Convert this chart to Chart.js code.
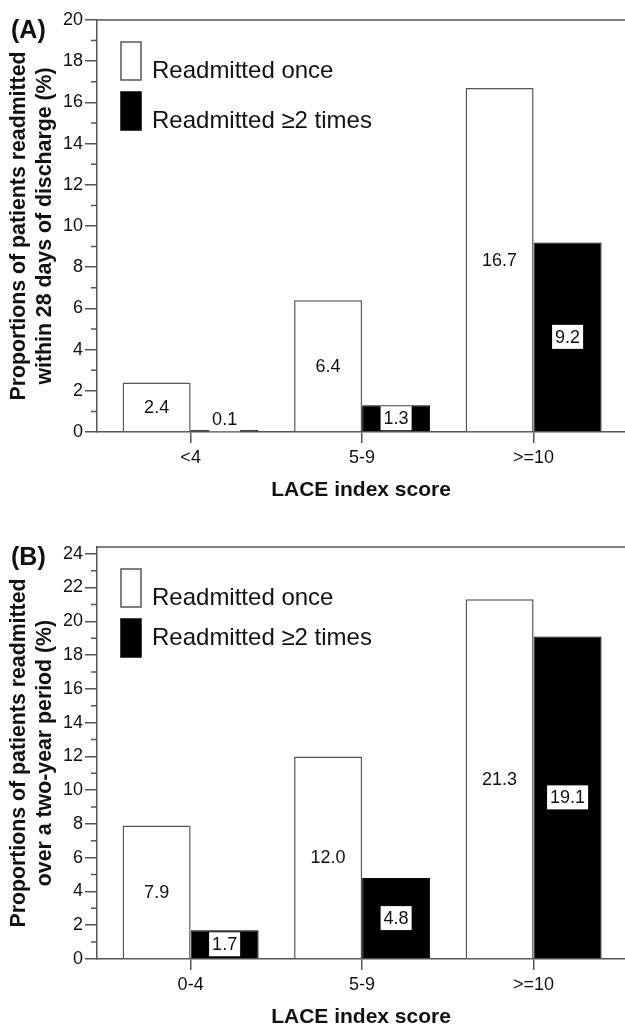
<!DOCTYPE html>
<html><head><meta charset="utf-8">
<script src="https://cdn.jsdelivr.net/npm/chart.js@4"></script>
<style>
html,body{margin:0;padding:0;background:#fff;overflow:hidden;width:625px;height:1024px;position:relative;}
.panel{position:absolute;left:0;width:625px;height:512px;}
#pa{top:0}
#pb{top:527px}
</style></head><body>
<div class="panel" id="pa"><canvas id="ca" width="625" height="512"></canvas></div>
<div class="panel" id="pb"><canvas id="cb" width="625" height="512"></canvas></div>
<script>
// ---- data ----
const seriesNames = ['Readmitted once', 'Readmitted \u22652 times'];
const categoriesA = ['<4', '5-9', '>=10'];
const onceA = [2.4, 6.4, 16.7];
const twiceA = [0.1, 1.3, 9.2];
const yTicksA = [0, 2, 4, 6, 8, 10, 12, 14, 16, 18, 20];
const yTitleA = ['Proportions of patients readmitted', 'within 28 days of discharge (%)'];

const categoriesB = ['0-4', '5-9', '>=10'];
const onceB = [7.9, 12.0, 21.3];
const twiceB = [1.7, 4.8, 19.1];
const yTicksB = [0, 2, 4, 6, 8, 10, 12, 14, 16, 18, 20, 22, 24];
const yTitleB = ['Proportions of patients readmitted', 'over a two-year period (%)'];

const xTitle = 'LACE index score';
const FONT = "'Liberation Sans', Arial, Helvetica, sans-serif";
const AXIS = '#555';

const decor = {
  id: 'decor',
  afterDatasetsDraw(chart, args, opts) {
    const ctx = chart.ctx;
    ctx.save();
    ctx.font = '18px ' + FONT;
    ctx.textAlign = 'center';
    ctx.textBaseline = 'middle';
    chart.data.datasets.forEach((ds, di) => {
      const meta = chart.getDatasetMeta(di);
      meta.data.forEach((bar, i) => {
        const txt = ds.data[i].y.toFixed(1);
        const y = Math.min((bar.y + bar.base) / 2, bar.base - 12);
        const x = bar.x;
        if (di === 1) {
          const w = ctx.measureText(txt).width + 6;
          ctx.fillStyle = '#fff';
          ctx.fillRect(x - w / 2, y - 12, w, 24);
        }
        ctx.fillStyle = '#111';
        ctx.fillText(txt, x, y + 1);
      });
    });
    ctx.restore();
  },
  afterDraw(chart, args, opts) {
    const ctx = chart.ctx;
    const ca = chart.chartArea;
    const ys = chart.scales.y;
    ctx.save();
    // top border
    ctx.strokeStyle = AXIS;
    ctx.lineWidth = 1.5;
    ctx.beginPath();
    ctx.moveTo(ca.left, ca.top);
    ctx.lineTo(ca.right + 2, ca.top);
    ctx.stroke();
    // minor ticks
    const yt = opts.yTicks;
    const maxT = yt[yt.length - 1];
    ctx.beginPath();
    for (let v = 1; v < maxT; v += 2) {
      const py = ys.getPixelForValue(v);
      ctx.moveTo(ca.left - 6, py);
      ctx.lineTo(ca.left, py);
    }
    ctx.stroke();
    // panel label
    ctx.fillStyle = '#111';
    ctx.font = 'bold 25px ' + FONT;
    ctx.textAlign = 'left';
    ctx.textBaseline = 'middle';
    ctx.fillText(opts.panel, 11, ca.top + 11);
    // legend
    const bx = ca.left + 24, bw = 20, bh = 38;
    const tops = [ca.top + 22, ca.top + 72];
    chart.data.datasets.forEach((ds, di) => {
      ctx.fillStyle = ds.backgroundColor;
      ctx.fillRect(bx, tops[di], bw, bh);
      ctx.strokeStyle = ds.borderColor;
      ctx.lineWidth = 1.5;
      ctx.strokeRect(bx, tops[di], bw, bh);
      ctx.fillStyle = '#111';
      ctx.font = '24px ' + FONT;
      ctx.fillText(ds.label, ca.left + 55, tops[di] + opts.textOffsets[di]);
    });
    ctx.restore();
  }
};

function makeChart(id, panel, cats, once, twice, yTicks, yMax, yTitle, textOffsets) {
  const toXY = arr => arr.map((v, i) => ({ x: i, y: v }));
  return new Chart(document.getElementById(id), {
    type: 'bar',
    data: {
      datasets: [
        { label: seriesNames[0], data: toXY(once), backgroundColor: '#ffffff', borderColor: '#555', borderWidth: 1.5 },
        { label: seriesNames[1], data: toXY(twice), backgroundColor: '#000000', borderColor: '#000', borderWidth: 1 }
      ]
    },
    options: {
      responsive: false,
      animation: false,
      devicePixelRatio: 1,
      categoryPercentage: 0.793,
      barPercentage: 1.0,
      layout: { padding: { top: 20, left: 0, right: 0, bottom: 0 } },
      plugins: {
        legend: { display: false },
        tooltip: { enabled: false },
        decor: { panel: panel, yTicks: yTicks, textOffsets: textOffsets }
      },
      scales: {
        x: {
          type: 'linear',
          min: -0.546,
          max: 2.533,
          offset: false,
          afterBuildTicks: s => { s.ticks = cats.map((c, i) => ({ value: i })); },
          afterFit: s => { s.height = 80; },
          grid: { drawOnChartArea: false, drawTicks: true, tickLength: 11, color: AXIS, lineWidth: 1.5, offset: false },
          border: { display: true, color: AXIS, width: 1.5 },
          ticks: { autoSkip: false, maxRotation: 0, padding: 4, color: '#111', font: { family: FONT, size: 18 },
                   callback: v => cats[v] },
          title: { display: true, text: xTitle, color: '#111', font: { family: FONT, size: 21, weight: 'bold' },
                   padding: { top: 0, bottom: 9 } }
        },
        y: {
          min: 0,
          max: yMax,
          afterBuildTicks: s => { s.ticks = yTicks.map(v => ({ value: v })); },
          afterFit: s => { s.width = 97; },
          grid: { drawOnChartArea: false, drawTicks: true, tickLength: 12, color: AXIS, lineWidth: 1.5 },
          border: { display: true, color: AXIS, width: 1.5 },
          ticks: { padding: 2, color: '#111', font: { family: FONT, size: 18 } },
          title: { display: true, text: yTitle, color: '#111', font: { family: FONT, size: 21.3, weight: 'bold', lineHeight: 1.18 },
                   padding: { top: 7, bottom: 0 } }
        }
      }
    },
    plugins: [decor]
  });
}

makeChart('ca', '(A)', categoriesA, onceA, twiceA, yTicksA, 20, yTitleA, [29, 29]);
makeChart('cb', '(B)', categoriesB, onceB, twiceB, yTicksB, 24.4, yTitleB, [29, 19]);
</script>
</body></html>
